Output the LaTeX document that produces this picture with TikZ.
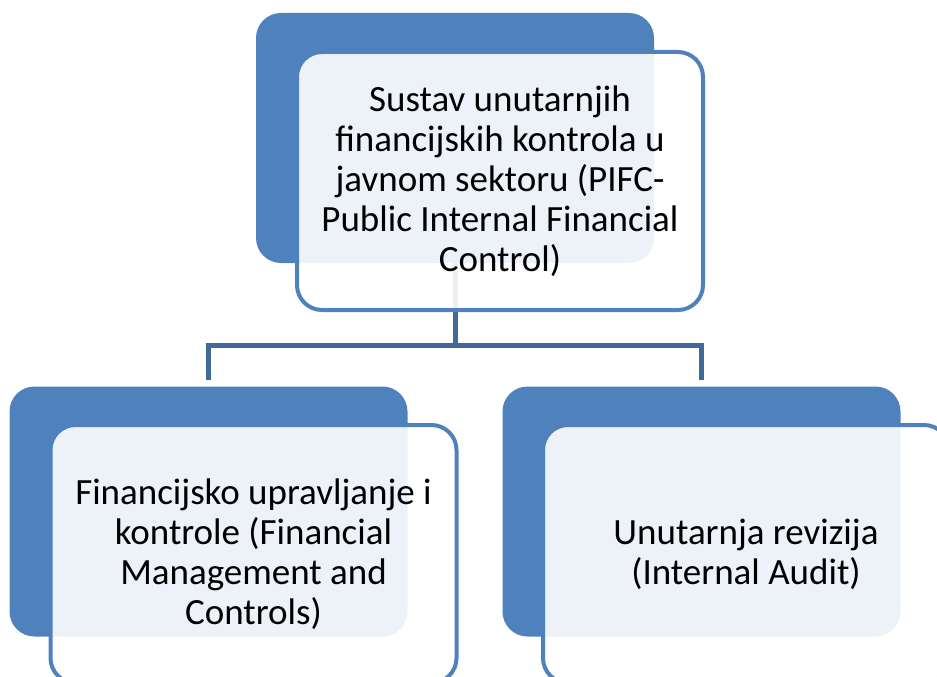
\documentclass[tikz,border=0pt]{standalone}
\usepackage{fontspec}
\setmainfont{Carlito}
\definecolor{accent}{HTML}{4F81BD}
\definecolor{linkblue}{HTML}{41699A}
\tikzset{
  back/.style = {fill = accent, rounded corners = 25pt, minimum width = 398pt,
    minimum height = 250pt, inner sep = 0pt},
  front/.style = {draw = accent, line width = 4pt, fill = white,
    fill opacity = 0.9, text opacity = 1, rounded corners = 25pt,
    minimum width = 406pt, minimum height = 258pt, align = center,
    font = \fontsize{37}{40}\selectfont, text = black},
  link/.style = {draw = linkblue, line width = 5pt, shorten > = 6pt}
}
\begin{document}
\begin{tikzpicture}[x = 1pt, y = -1pt]
  \clip (0, 0) rectangle (937, 677);
  % dark blocks
  \node[back] (topback) at (455, 138) {};
  \node[back] (leftback) at (208.5, 511.5) {};
  \node[back] (rightback) at (701.5, 511.5) {};
  % connectors
  \draw[link] (topback.south) -- ++(0, 82) -| (leftback.north);
  \draw[link] (topback.south) -- ++(0, 82) -| (rightback.north);
  % text boxes
  \node[front] (pifc) at (500, 181)
  {Sustav unutarnjih\\financijskih kontrola u\\javnom sektoru (PIFC-\\Public
    Internal Financial\\Control)};
  \node[front] (fmc) at (253.5, 554)
  {Financijsko upravljanje i\\kontrole (Financial\\Management and\\Controls)};
  \node[front] (audit) at (746, 554)
  {Unutarnja revizija\\(Internal Audit)};
\end{tikzpicture}
\end{document}
